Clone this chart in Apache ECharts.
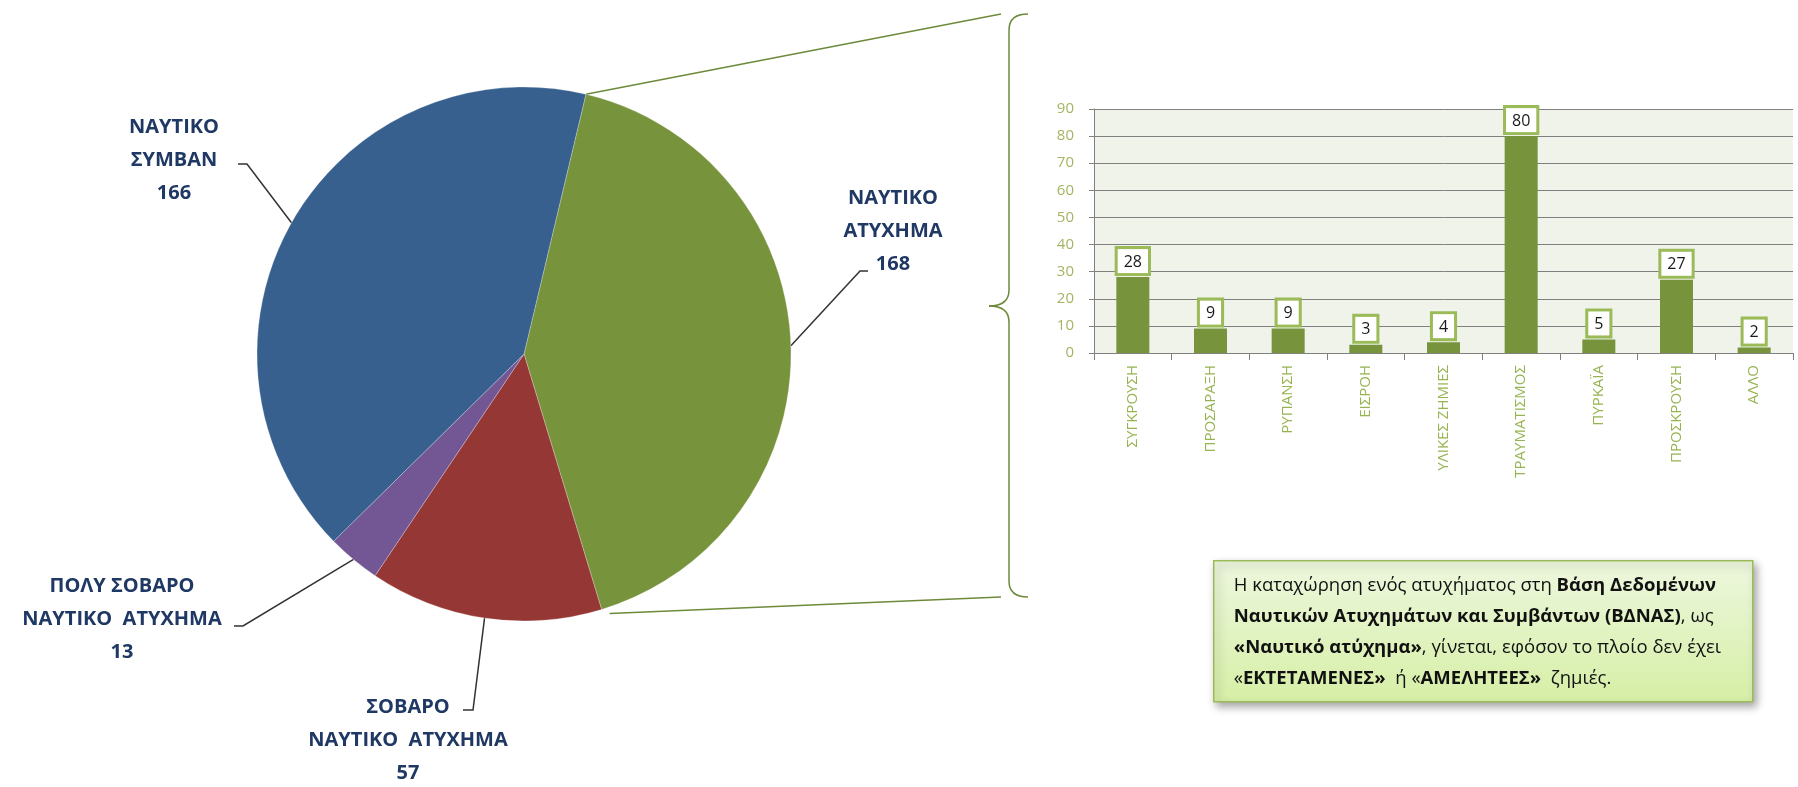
<!DOCTYPE html>
<html><head><meta charset="utf-8">
<script src="https://cdn.jsdelivr.net/npm/echarts@6/dist/echarts.min.js"></script>
<style>html,body{margin:0;padding:0;background:#fff}#c{width:1798px;height:787px}</style>
</head><body><div id="c"></div>
<script>
// ---- data ----
const pieNames = ['ΝΑΥΤΙΚΟ\nΑΤΥΧΗΜΑ', 'ΣΟΒΑΡΟ\nΝΑΥΤΙΚΟ  ΑΤΥΧΗΜΑ', 'ΠΟΛΥ ΣΟΒΑΡΟ\nΝΑΥΤΙΚΟ  ΑΤΥΧΗΜΑ', 'ΝΑΥΤΙΚΟ\nΣΥΜΒΑΝ'];
const pieValues = [168, 57, 13, 166];
const barCategories = ['ΣΥΓΚΡΟΥΣΗ', 'ΠΡΟΣΑΡΑΞΗ', 'ΡΥΠΑΝΣΗ', 'ΕΙΣΡΟΗ', 'ΥΛΙΚΕΣ ΖΗΜΙΕΣ', 'ΤΡΑΥΜΑΤΙΣΜΟΣ', 'ΠΥΡΚΑΪΑ', 'ΠΡΟΣΚΡΟΥΣΗ', 'ΑΛΛΟ'];
const barValues = [28, 9, 9, 3, 4, 80, 5, 27, 2];
const yMin = 0, yMax = 90, yStep = 10;

// ---- styling / layout ----
const pieColors = ['#77933c', '#953735', '#735794', '#37608f'];
const PIE_C = [524, 354], PIE_R = 267, START = 76.6;
const labelPos = [
  {x: 893, y: 231, bend: [860, 271], end: [868, 271]},
  {x: 408, y: 740, bend: [473, 710], end: [463, 710]},
  {x: 122, y: 619, bend: [243, 626], end: [234, 626]},
  {x: 174, y: 160, bend: [247, 164], end: [238, 164]}
];
const olive = '#9bbb59';
const braceColor = '#6d8a3a';

const total = pieValues.reduce((a, b) => a + b, 0);
function piePoint(angDeg) {
  const a = angDeg * Math.PI / 180;
  return [PIE_C[0] + PIE_R * Math.cos(a), PIE_C[1] - PIE_R * Math.sin(a)];
}
const greenStart = piePoint(START);
const greenEnd = piePoint(START - 360 * pieValues[0] / total);

const chart = echarts.init(document.getElementById('c'));
const labelFont = 'Open Sans';
const braceStyle = {stroke: braceColor, lineWidth: 1.5, fill: null};

chart.setOption({
  backgroundColor: '#fff',
  animation: false,
  grid: {left: 1094, right: 5, top: 109, bottom: 434, show: true, backgroundColor: '#eff3ea', borderWidth: 0},
  xAxis: {
    type: 'category', data: barCategories,
    axisLine: {lineStyle: {color: '#808080', width: 1}},
    axisTick: {show: true, interval: 0, length: 7, lineStyle: {color: '#808080'}},
    axisLabel: {interval: 0, rotate: 90, color: '#97b452', fontSize: 15, fontFamily: labelFont, margin: 12}
  },
  yAxis: {
    type: 'value', min: yMin, max: yMax, interval: yStep,
    axisLine: {show: true, lineStyle: {color: '#808080'}},
    axisTick: {show: true, length: 5, lineStyle: {color: '#808080'}},
    splitLine: {lineStyle: {color: '#808080', width: 1}},
    axisLabel: {color: '#a3b562', fontSize: 15, fontFamily: labelFont, margin: 20}
  },
  series: [
    {
      type: 'bar', data: barValues, barWidth: 33,
      itemStyle: {color: '#77933c'},
      label: {
        show: true, position: 'top', distance: 4,
        color: '#1a1a1a', fontSize: 16, fontFamily: labelFont,
        backgroundColor: '#fff', borderColor: olive, borderWidth: 3,
        padding: [5, 6, 3, 6]
      }
    },
    {
      type: 'pie', center: PIE_C, radius: PIE_R, startAngle: START, clockwise: true,
      avoidLabelOverlap: false,
      data: pieValues.map((v, i) => ({value: v, name: pieNames[i], itemStyle: {color: pieColors[i]}})),
      itemStyle: {borderColor: 'rgba(255,255,255,0.5)', borderWidth: 0.5},
      label: {
        show: true, position: 'outside',
        formatter: '{b}\n{c}', align: 'center',
        color: '#1f3864', fontFamily: labelFont, fontWeight: 'bold', fontSize: 20, lineHeight: 33
      },
      labelLine: {show: true, length: 20, length2: 10, lineStyle: {color: '#333', width: 1.5}},
      labelLayout: function (p) {
        const L = labelPos[p.dataIndex];
        const pts = p.labelLinePoints;
        return {
          x: L.x, y: L.y, align: 'center', verticalAlign: 'middle',
          labelLinePoints: [pts[0], L.bend, L.end]
        };
      }
    }
  ],
  graphic: [
    {type: 'line', shape: {x1: greenStart[0], y1: greenStart[1], x2: 1001, y2: 14}, style: {stroke: braceColor, lineWidth: 1.5}},
    {type: 'line', shape: {x1: greenEnd[0] + 8, y1: greenEnd[1] + 4, x2: 1001, y2: 597}, style: {stroke: braceColor, lineWidth: 1.5}},
    {type: 'bezierCurve', shape: {x1: 1028, y1: 14, cpx1: 1009, cpy1: 14, x2: 1009, y2: 30}, style: braceStyle},
    {type: 'line', shape: {x1: 1009, y1: 30, x2: 1009, y2: 290}, style: braceStyle},
    {type: 'bezierCurve', shape: {x1: 1009, y1: 290, cpx1: 1009, cpy1: 306, x2: 989, y2: 306}, style: braceStyle},
    {type: 'bezierCurve', shape: {x1: 989, y1: 306, cpx1: 1009, cpy1: 306, x2: 1009, y2: 322}, style: braceStyle},
    {type: 'line', shape: {x1: 1009, y1: 322, x2: 1009, y2: 581}, style: braceStyle},
    {type: 'bezierCurve', shape: {x1: 1009, y1: 581, cpx1: 1009, cpy1: 597, x2: 1028, y2: 597}, style: braceStyle},
    {
      type: 'group', left: 1213, top: 560,
      children: [
        {type: 'rect', shape: {x: 0, y: 0, width: 539, height: 141},
          style: {
            fill: new echarts.graphic.LinearGradient(0, 0, 0, 1, [{offset: 0, color: '#edf7de'}, {offset: 1, color: '#d6efa6'}]),
            stroke: olive, lineWidth: 1.5,
            shadowBlur: 8, shadowOffsetX: 3, shadowOffsetY: 4, shadowColor: 'rgba(0,0,0,0.35)'
          }},
        {type: 'text', x: 20, y: 9, style: {
          text: '{n|Η καταχώρηση ενός ατυχήματος στη }{b|Βάση Δεδομένων}\n' +
                '{b|Ναυτικών Ατυχημάτων και Συμβάντων (ΒΔΝΑΣ)}{n|, ως}\n' +
                '{b|«Ναυτικό ατύχημα»}{n|, γίνεται, εφόσον το πλοίο δεν έχει}\n' +
                '{n|«}{b|ΕΚΤΕΤΑΜΕΝΕΣ»}{n|  ή «}{b|ΑΜΕΛΗΤΕΕΣ»}{n|  ζημιές.}',
          fill: '#111',
          rich: {
            n: {fontFamily: labelFont, fontSize: 18.5, lineHeight: 31, fill: '#111'},
            b: {fontFamily: labelFont, fontSize: 18.5, lineHeight: 31, fontWeight: 'bold', fill: '#111'}
          }
        }}
      ]
    }
  ]
});
</script>
</body></html>
